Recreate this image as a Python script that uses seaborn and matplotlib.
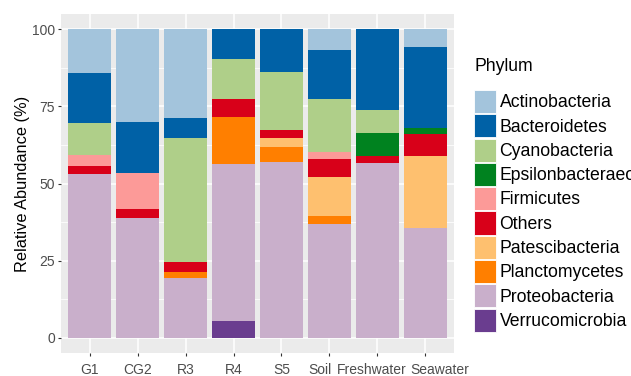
import numpy as np
import pandas as pd
import matplotlib
matplotlib.use("Agg")
import matplotlib.pyplot as plt
from matplotlib.patches import Patch
from matplotlib.ticker import FixedLocator
from matplotlib.transforms import ScaledTranslation
import seaborn as sns

plt.rcParams["font.family"] = ["Liberation Sans", "DejaVu Sans"]

samples = ["G1", "CG2", "R3", "R4", "S5", "Soil", "Freshwater", "Seawater"]
phyla = ["Actinobacteria", "Bacteroidetes", "Cyanobacteria", "Epsilonbacteraeota",
         "Firmicutes", "Others", "Patescibacteria", "Planctomycetes",
         "Proteobacteria", "Verrucomicrobia"]

# Relative abundance (%) of each phylum per sample
actinobacteria     = [14.0, 30.2, 28.6,  0.0,  0.0,  6.7,  0.0,  5.7]
bacteroidetes      = [16.4, 16.5,  6.5,  9.5, 13.8, 15.9, 26.1, 26.2]
cyanobacteria      = [10.2,  0.0, 40.5, 13.1, 18.8, 17.3,  7.5,  0.0]
epsilonbacteraeota = [ 0.0,  0.0,  0.0,  0.0,  0.0,  0.0,  7.5,  2.2]
firmicutes         = [ 3.6, 11.7,  0.0,  0.0,  0.0,  2.1,  0.0,  0.0]
others             = [ 2.7,  2.8,  3.1,  5.8,  2.5,  6.0,  2.1,  7.1]
patescibacteria    = [ 0.0,  0.0,  0.0,  0.0,  3.1, 12.5,  0.0, 23.4]
planctomycetes     = [ 0.0,  0.0,  2.0, 15.3,  4.9,  2.7,  0.0,  0.0]
proteobacteria     = [53.1, 38.8, 19.3, 51.0, 56.9, 36.8, 56.8, 35.4]
verrucomicrobia    = [ 0.0,  0.0,  0.0,  5.3,  0.0,  0.0,  0.0,  0.0]

colors = ["#a3c4dc", "#0061a6", "#afcf89", "#00821f", "#fc9a98",
          "#d80019", "#fec06f", "#ff7f00", "#c9afcb", "#6a3d8f"]

table = pd.DataFrame(
    np.array([actinobacteria, bacteroidetes, cyanobacteria, epsilonbacteraeota,
              firmicutes, others, patescibacteria, planctomycetes,
              proteobacteria, verrucomicrobia]).T,
    index=samples, columns=phyla)

fig = plt.figure(figsize=(6.31, 3.76), dpi=100)
ax = fig.add_axes([61 / 631, 23 / 376, 393 / 631, 339 / 376])
ax.set_facecolor("#EBEBEB")

# Stack: first phylum on top, last at the bottom. Draw cumulative totals
# from the top layer down so each lower layer covers the one above.
for i, (ph, col) in enumerate(zip(phyla, colors)):
    cum = table[phyla[i:]].sum(axis=1)
    sns.barplot(x=samples, y=cum.values, order=samples, color=col,
                saturation=1, width=0.9, linewidth=0, ax=ax, zorder=2)

ax.set_xlim(-0.6, len(samples) - 0.4)
ax.set_ylim(-5, 105)
ax.set_yticks([0, 25, 50, 75, 100])
ax.set_yticklabels(["0", "25", "50", "75", "100"])
ax.yaxis.set_minor_locator(FixedLocator([12.5, 37.5, 62.5, 87.5]))
ax.set_axisbelow(True)
ax.grid(which="major", color="white", linewidth=1.1)
ax.grid(which="minor", axis="y", color="white", linewidth=0.55)
ax.tick_params(which="major", length=2.5, width=0.8, color="#333333",
               labelsize=10, labelcolor="#4D4D4D")
ax.tick_params(axis="y", pad=2)
ax.tick_params(axis="x", pad=5)
ax.tick_params(which="minor", length=0)
for sp in ax.spines.values():
    sp.set_visible(False)
ax.set_xlabel("")
ax.set_ylabel("Relative Abundance (%)", fontsize=11.8, labelpad=1)

# Nudge the crowded right-hand sample names apart (pixels)
nudges = {"Soil": -9, "Freshwater": -5.5, "Seawater": 14.5}
for lab in ax.get_xticklabels():
    dx = nudges.get(lab.get_text(), 0)
    if dx:
        lab.set_transform(lab.get_transform()
                          + ScaledTranslation(dx / fig.dpi, 0, fig.dpi_scale_trans))

handles = [Patch(facecolor=c, edgecolor="white", linewidth=0.6) for c in colors]
fig.text(475 / 631, 1 - 58 / 376, "Phylum", fontsize=12.7, ha="left", va="top")
fig.legend(handles, phyla, loc="upper left",
           bbox_to_anchor=(474 / 631, 1 - 90 / 376), frameon=False,
           fontsize=12.7, handlelength=1.25, handleheight=1.634,
           handletextpad=0.2, labelspacing=0.07, borderpad=0,
           borderaxespad=0)

fig.savefig("out.png", dpi=100)
